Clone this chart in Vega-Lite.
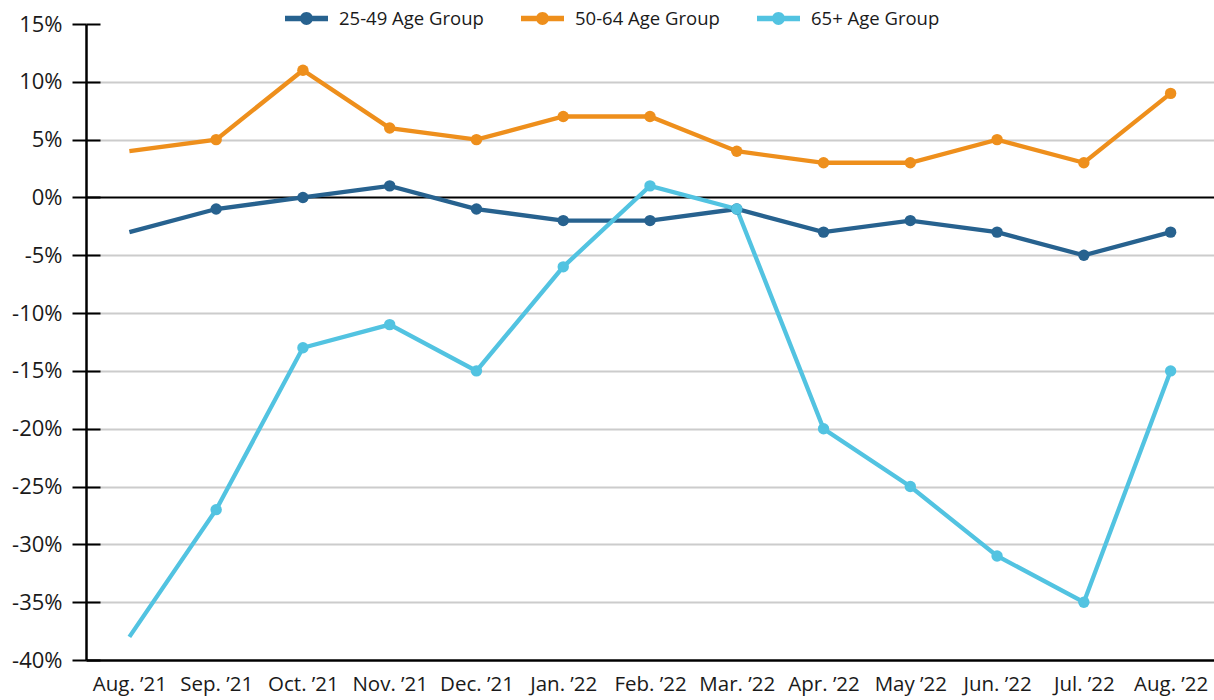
{
  "$schema": "https://vega.github.io/schema/vega-lite/v6.json",
  "width": 1128,
  "height": 636,
  "autosize": "none",
  "padding": {"left": 86, "top": 24, "right": 0, "bottom": 40},
  "background": "white",
  "config": {
    "view": {"stroke": null},
    "font": "Open Sans",
    "text": {"font": "Open Sans"}
  },
  "data": {
    "values": [
      {"month": "Aug. ’21", "group": "25-49 Age Group", "value": -3},
      {"month": "Sep. ’21", "group": "25-49 Age Group", "value": -1},
      {"month": "Oct. ’21", "group": "25-49 Age Group", "value": 0},
      {"month": "Nov. ’21", "group": "25-49 Age Group", "value": 1},
      {"month": "Dec. ’21", "group": "25-49 Age Group", "value": -1},
      {"month": "Jan. ’22", "group": "25-49 Age Group", "value": -2},
      {"month": "Feb. ’22", "group": "25-49 Age Group", "value": -2},
      {"month": "Mar. ’22", "group": "25-49 Age Group", "value": -1},
      {"month": "Apr. ’22", "group": "25-49 Age Group", "value": -3},
      {"month": "May ’22", "group": "25-49 Age Group", "value": -2},
      {"month": "Jun. ’22", "group": "25-49 Age Group", "value": -3},
      {"month": "Jul. ’22", "group": "25-49 Age Group", "value": -5},
      {"month": "Aug. ’22", "group": "25-49 Age Group", "value": -3},
      {"month": "Aug. ’21", "group": "50-64 Age Group", "value": 4},
      {"month": "Sep. ’21", "group": "50-64 Age Group", "value": 5},
      {"month": "Oct. ’21", "group": "50-64 Age Group", "value": 11},
      {"month": "Nov. ’21", "group": "50-64 Age Group", "value": 6},
      {"month": "Dec. ’21", "group": "50-64 Age Group", "value": 5},
      {"month": "Jan. ’22", "group": "50-64 Age Group", "value": 7},
      {"month": "Feb. ’22", "group": "50-64 Age Group", "value": 7},
      {"month": "Mar. ’22", "group": "50-64 Age Group", "value": 4},
      {"month": "Apr. ’22", "group": "50-64 Age Group", "value": 3},
      {"month": "May ’22", "group": "50-64 Age Group", "value": 3},
      {"month": "Jun. ’22", "group": "50-64 Age Group", "value": 5},
      {"month": "Jul. ’22", "group": "50-64 Age Group", "value": 3},
      {"month": "Aug. ’22", "group": "50-64 Age Group", "value": 9},
      {"month": "Aug. ’21", "group": "65+ Age Group", "value": -38},
      {"month": "Sep. ’21", "group": "65+ Age Group", "value": -27},
      {"month": "Oct. ’21", "group": "65+ Age Group", "value": -13},
      {"month": "Nov. ’21", "group": "65+ Age Group", "value": -11},
      {"month": "Dec. ’21", "group": "65+ Age Group", "value": -15},
      {"month": "Jan. ’22", "group": "65+ Age Group", "value": -6},
      {"month": "Feb. ’22", "group": "65+ Age Group", "value": 1},
      {"month": "Mar. ’22", "group": "65+ Age Group", "value": -1},
      {"month": "Apr. ’22", "group": "65+ Age Group", "value": -20},
      {"month": "May ’22", "group": "65+ Age Group", "value": -25},
      {"month": "Jun. ’22", "group": "65+ Age Group", "value": -31},
      {"month": "Jul. ’22", "group": "65+ Age Group", "value": -35},
      {"month": "Aug. ’22", "group": "65+ Age Group", "value": -15}
    ]
  },
  "resolve": {"axis": {"y": "independent"}},
  "layer": [
    {
      "data": {"values": [{"zero": 0}]},
      "mark": {"type": "rule", "color": "black", "strokeWidth": 2},
      "encoding": {
        "y": {
          "field": "zero",
          "type": "quantitative",
          "scale": {"domain": [-40, 15], "nice": false, "zero": false},
          "axis": {
            "orient": "left",
            "values": [-40, -35, -30, -25, -20, -15, -10, -5, 0, 5, 10, 15],
            "tickSize": -14,
            "tickWidth": 2,
            "tickColor": "black",
            "labels": false,
            "domain": false,
            "grid": false,
            "title": null
          }
        }
      }
    },
    {
      "mark": {"type": "line", "strokeWidth": 4.3},
      "encoding": {
        "x": {
          "field": "month",
          "type": "ordinal",
          "sort": ["Aug. ’21", "Sep. ’21", "Oct. ’21", "Nov. ’21", "Dec. ’21", "Jan. ’22", "Feb. ’22", "Mar. ’22", "Apr. ’22", "May ’22", "Jun. ’22", "Jul. ’22", "Aug. ’22"],
          "scale": {"type": "point", "padding": 0.5},
          "axis": {
            "title": null,
            "ticks": false,
            "domainColor": "black",
            "domainWidth": 2.5,
            "labelAngle": 0,
            "labelFont": "Open Sans",
            "labelFontSize": 20.5,
            "labelFontWeight": "normal",
            "labelColor": "#1a1a1a",
            "labelPadding": 14,
            "grid": false
          }
        },
        "y": {
          "field": "value",
          "type": "quantitative",
          "scale": {"domain": [-40, 15], "nice": false, "zero": false},
          "axis": {
            "orient": "left",
            "title": null,
            "values": [-40, -35, -30, -25, -20, -15, -10, -5, 0, 5, 10, 15],
            "labelExpr": "datum.value + '%'",
            "labelFont": "Open Sans",
            "labelFontSize": 22,
            "labelFontWeight": "normal",
            "labelColor": "#1a1a1a",
            "labelPadding": 10,
            "tickSize": 14,
            "tickWidth": 2,
            "tickColor": "black",
            "domainColor": "black",
            "domainWidth": 2.5,
            "grid": true,
            "gridColor": {"condition": {"test": "datum.value === 15 || datum.value === 0 || datum.value === -40", "value": "transparent"}, "value": "#cccccc"},
            "gridWidth": 2
          }
        },
        "color": {
          "field": "group",
          "type": "nominal",
          "scale": {
            "domain": ["25-49 Age Group", "50-64 Age Group", "65+ Age Group"],
            "range": ["#27628f", "#ee8f1c", "#52c3e1"]
          },
          "legend": {
            "title": null,
            "orient": "none",
            "direction": "horizontal",
            "legendX": 199,
            "legendY": -27,
            "symbolType": "M-1,-0.13H1V0.13H-1Z M0.3,0A0.3,0.3,0,1,1,-0.3,0A0.3,0.3,0,1,1,0.3,0Z",
            "symbolSize": 1849,
            "symbolStrokeWidth": 0,
            "labelFont": "Open Sans",
            "labelFontSize": 18.5,
            "labelColor": "#1a1a1a",
            "labelOffset": 11,
            "columnPadding": 37,
            "encode": {
              "symbols": {
                "update": {
                  "fill": {"scale": "color", "field": "value"},
                  "stroke": {"value": "transparent"},
                  "opacity": {"value": 1}
                }
              }
            }
          }
        }
      }
    },
    {
      "transform": [{"filter": "datum.month !== 'Aug. ’21'"}],
      "mark": {"type": "point", "filled": true, "size": 130, "opacity": 1},
      "encoding": {
        "x": {
          "field": "month",
          "type": "ordinal",
          "sort": ["Aug. ’21", "Sep. ’21", "Oct. ’21", "Nov. ’21", "Dec. ’21", "Jan. ’22", "Feb. ’22", "Mar. ’22", "Apr. ’22", "May ’22", "Jun. ’22", "Jul. ’22", "Aug. ’22"]
        },
        "y": {"field": "value", "type": "quantitative", "axis": null},
        "color": {"field": "group", "type": "nominal", "legend": null}
      }
    }
  ]
}
